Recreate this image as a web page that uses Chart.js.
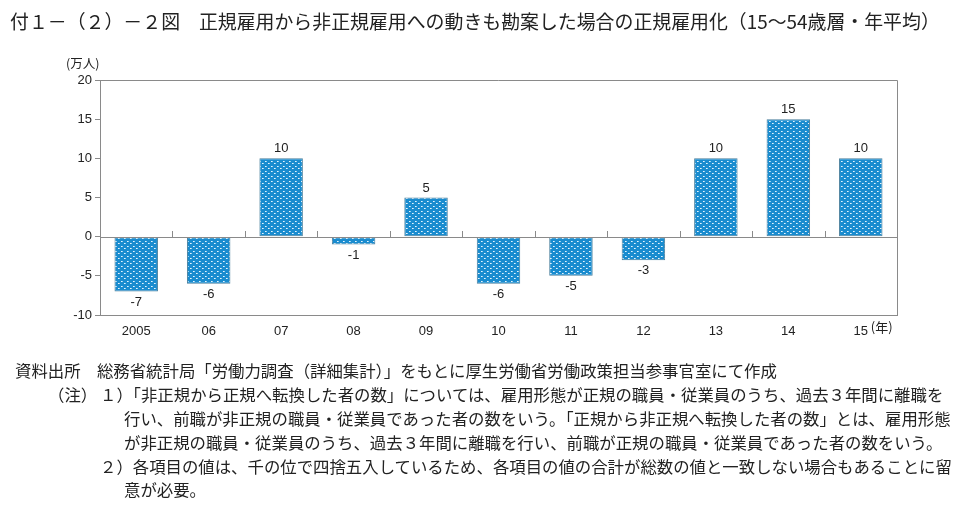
<!DOCTYPE html>
<html>
<head>
<meta charset="utf-8">
<script src="https://cdn.jsdelivr.net/npm/chart.js@4.4.0/dist/chart.umd.min.js"></script>
<style>
  html, body { margin:0; padding:0; background:#fff; }
  body { width:963px; height:508px; position:relative; overflow:hidden; font-family:"Noto Sans CJK JP", sans-serif; color:#222; }
  #wrap { position:absolute; left:0; top:0; width:963px; height:508px; }
  .t { position:absolute; white-space:nowrap; }
  .title { left:10px; top:7px; font-size:18.9px; }
  .note { font-size:16.4px; }
  .unit { left:66px; top:53px; font-size:12.5px; }
</style>
</head>
<body>
<div id="wrap"><canvas id="chart"></canvas></div>
<div class="t title">付１－（２）－２図　正規雇用から非正規雇用への動きも勘案した場合の正規雇用化（15～54歳層・年平均）</div>
<div class="t unit">(万人)</div>
<div class="t note" style="left:15px;top:358px;">資料出所　総務省統計局「労働力調査（詳細集計）」をもとに厚生労働省労働政策担当参事官室にて作成</div>
<div class="t note" style="left:48px;top:382px;">（注）</div>
<div class="t note" style="left:100px;top:382px;">１）「非正規から正規へ転換した者の数」については、雇用形態が正規の職員・従業員のうち、過去３年間に離職を</div>
<div class="t note" style="left:124px;top:406px;">行い、前職が非正規の職員・従業員であった者の数をいう。「正規から非正規へ転換した者の数」とは、雇用形態</div>
<div class="t note" style="left:124px;top:430px;">が非正規の職員・従業員のうち、過去３年間に離職を行い、前職が正規の職員・従業員であった者の数をいう。</div>
<div class="t note" style="left:100px;top:454px;">２）各項目の値は、千の位で四捨五入しているため、各項目の値の合計が総数の値と一致しない場合もあることに留</div>
<div class="t note" style="left:124px;top:477px;">意が必要。</div>
<script>
const years  = ['2005', '06', '07', '08', '09', '10', '11', '12', '13', '14', '15'];
const values = [-7, -6, 10, -1, 5, -6, -5, -3, 10, 15, 10];
const yTicks = [-10, -5, 0, 5, 10, 15, 20];

// blue dotted fill like the print pattern
function makePattern() {
  const c = document.createElement('canvas');
  c.width = 6; c.height = 5;
  const g = c.getContext('2d');
  g.fillStyle = '#1a8ccf';
  g.fillRect(0, 0, 6, 5);
  g.fillStyle = 'rgba(255,255,255,0.9)';
  g.fillRect(1, 1, 1, 1);
  g.fillRect(4, 3, 1, 1);
  g.fillStyle = 'rgba(200,235,255,0.75)';
  g.fillRect(2, 1, 1, 1);
  g.fillRect(5, 3, 1, 1);
  return g.createPattern(c, 'repeat');
}

const framePlugin = {
  id: 'frame',
  afterDraw(chart) {
    const { ctx, chartArea: a, scales } = chart;
    const y0 = scales.y.getPixelForValue(0);
    ctx.save();
    ctx.strokeStyle = '#8a8a8a';
    ctx.lineWidth = 1;
    ctx.beginPath();
    ctx.moveTo(a.left, a.top + 0.5); ctx.lineTo(a.right + 0.5, a.top + 0.5);
    ctx.lineTo(a.right + 0.5, a.bottom);
    ctx.moveTo(a.left, Math.round(y0) + 0.5); ctx.lineTo(a.right, Math.round(y0) + 0.5);
    // category boundary ticks on the zero line
    for (let i = 1; i < years.length; i++) {
      const x = Math.round((scales.x.getPixelForValue(i - 1) + scales.x.getPixelForValue(i)) / 2) + 0.5;
      ctx.moveTo(x, Math.round(y0)); ctx.lineTo(x, Math.round(y0) - 6);
    }
    ctx.stroke();

    // value labels
    ctx.fillStyle = '#222';
    ctx.font = '13px "Liberation Sans", Arial, sans-serif';
    ctx.textAlign = 'center';
    const meta = chart.getDatasetMeta(0);
    meta.data.forEach((bar, i) => {
      const v = values[i];
      if (v >= 0) { ctx.textBaseline = 'bottom'; ctx.fillText(String(v), bar.x, bar.y - 3); }
      else { ctx.textBaseline = 'top'; ctx.fillText(String(v), bar.x, bar.y + 4); }
    });

    // (年) after last label
    const lx = scales.x.getPixelForValue(years.length - 1);
    ctx.font = '13px "Noto Sans CJK JP", sans-serif';
    ctx.textAlign = 'left';
    ctx.textBaseline = 'middle';
    ctx.fillText('(年)', lx + 10, a.bottom + 12);
    ctx.restore();
  }
};

new Chart(document.getElementById('chart'), {
  type: 'bar',
  data: {
    labels: years,
    datasets: [{
      data: values,
      backgroundColor: makePattern(),
      borderColor: '#4a7f9c',
      borderWidth: 1,
      borderSkipped: false,
      categoryPercentage: 1,
      barPercentage: 0.6
    }]
  },
  options: {
    responsive: true,
    maintainAspectRatio: false,
    animation: false,
    devicePixelRatio: 1,
    layout: { padding: { left: 40, top: 80, right: 66, bottom: 163 } },
    plugins: { legend: { display: false }, tooltip: { enabled: false } },
    scales: {
      x: {
        grid: { display: false },
        border: { display: true, color: '#8a8a8a' },
        ticks: { color: '#222', font: { size: 13, family: '"Liberation Sans", Arial, sans-serif' }, padding: 1, maxRotation: 0 },
        afterFit: s => { s.height = 30; }
      },
      y: {
        min: -10, max: 20,
        afterBuildTicks: s => { s.ticks = yTicks.map(v => ({ value: v })); },
        grid: { drawOnChartArea: false, drawTicks: true, tickLength: 5, color: '#8a8a8a' },
        border: { display: true, color: '#8a8a8a' },
        ticks: { color: '#222', font: { size: 13, family: '"Liberation Sans", Arial, sans-serif' }, padding: 3 },
        afterFit: s => { s.width = 60; }
      }
    }
  },
  plugins: [framePlugin]
});
</script>
</body>
</html>
